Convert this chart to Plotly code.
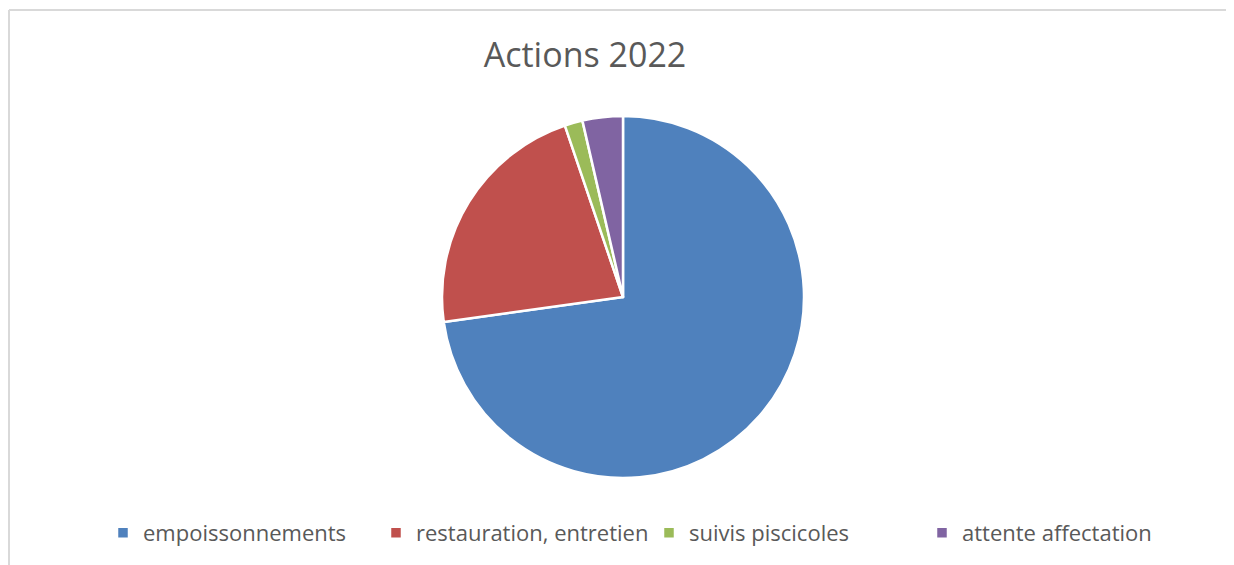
import plotly.graph_objects as go

categories = ["empoissonnements", "restauration, entretien", "suivis piscicoles", "attente affectation"]
values = [72.8, 22.0, 1.6, 3.6]
colors = ["#4F81BD", "#C0504D", "#9BBB59", "#8064A2"]
title_text = "Actions 2022"

W, H = 1234, 565
OFF = 8  # page body margin
cx, cy, r = 623 - OFF, 297 - OFF, 181

fig = go.Figure(go.Pie(
    labels=categories,
    values=values,
    sort=False,
    direction="clockwise",
    rotation=0,
    textinfo="none",
    hoverinfo="label+percent",
    marker=dict(colors=colors, line=dict(color="white", width=2.5)),
    domain=dict(x=[(cx - r) / W, (cx + r) / W], y=[1 - (cy + r) / H, 1 - (cy - r) / H]),
))

fig.update_layout(
    width=W, height=H,
    margin=dict(l=0, r=0, t=0, b=0),
    paper_bgcolor="white",
    plot_bgcolor="white",
    font=dict(family="Open Sans", color="#595959"),
    title=dict(text=title_text, x=(585 - OFF) / W, xanchor="center", y=1 - (55 - OFF) / H, yanchor="middle",
               font=dict(size=34, color="#595959", family="Open Sans")),
    showlegend=True,
    legend=dict(orientation="h", x=(143 - 40 - OFF) / W, xanchor="left", y=1 - (533 - OFF) / H, yanchor="middle",
                font=dict(size=22, color="#595959", family="Open Sans"), traceorder="normal",
                entrywidthmode="pixels", entrywidth=228),
    shapes=[
        dict(type="line", xref="paper", yref="paper", x0=1 / W, x1=1.01, y0=1 - 2 / H, y1=1 - 2 / H,
             line=dict(color="#d9d9d9", width=2)),
        dict(type="line", xref="paper", yref="paper", x0=1 / W, x1=1 / W, y0=-0.01, y1=1 - 2 / H,
             line=dict(color="#d9d9d9", width=2)),
    ],
)

fig.write_html("out.html")
